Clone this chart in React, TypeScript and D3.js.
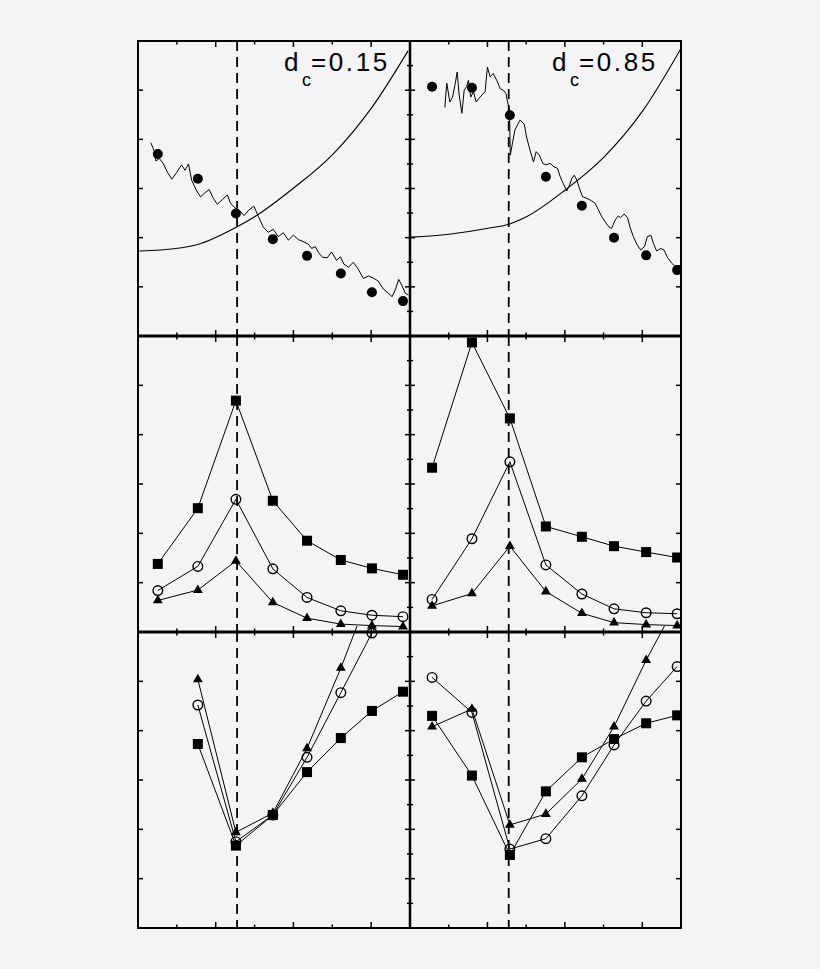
import React from "react";
import * as d3 from "d3";

// ---------- data ----------
const xLeft = [0.51, 1.54, 2.52, 3.47, 4.35, 5.22, 6.02, 6.82];
const xRight = [0.57, 1.6, 2.58, 3.51, 4.44, 5.27, 6.1, 6.9];
const xDash = 2.55;

const xMajor = [2, 4, 6];
const xMinor = [1, 3, 5];
const yMajor = [1, 2, 3, 4, 5];
const yMinor = [0.5, 1.5, 2.5, 3.5, 4.5, 5.5];

// top row: dots
const topLeftDots = [3.7, 3.2, 2.49, 1.97, 1.63, 1.27, 0.89, 0.71];
const topRightDots = [5.07, 5.05, 4.49, 3.24, 2.65, 2.0, 1.64, 1.34];

// top row: smooth curves [x, y]
const topLeftCurve: [number, number][] = [
  [0.03, 1.73], [0.57, 1.75], [1.54, 1.86], [2.55, 2.22], [3.01, 2.43],
  [3.99, 3.0], [5.02, 3.7], [6.02, 4.65], [6.95, 5.8],
];
const topRightCurve: [number, number][] = [
  [0.03, 2.01], [1.01, 2.07], [2.02, 2.19], [2.58, 2.28], [3.02, 2.43],
  [4.01, 2.97], [5.01, 3.64], [6.02, 4.59], [7.0, 5.85],
];

// top row: noisy traces [x, y]
const topLeftTrace: [number, number][] = [
  [0.33, 3.93], [0.41, 3.78], [0.46, 3.56], [0.55, 3.61], [0.65, 3.51], [0.75, 3.34],
  [0.87, 3.19], [0.99, 3.32], [1.12, 3.48], [1.21, 3.37], [1.3, 3.5], [1.38, 3.17],
  [1.51, 2.95], [1.61, 2.83], [1.72, 2.91], [1.83, 2.98], [1.94, 2.8], [2.04, 2.68],
  [2.18, 2.78], [2.3, 2.87], [2.38, 2.7], [2.52, 2.59], [2.62, 2.55], [2.73, 2.45],
  [2.85, 2.56], [2.98, 2.64], [3.1, 2.43], [3.22, 2.22], [3.35, 2.11], [3.48, 2.17],
  [3.61, 2.02], [3.74, 2.1], [3.87, 1.95], [4.0, 2.05], [4.13, 1.96], [4.25, 1.92],
  [4.38, 1.87], [4.47, 1.78], [4.56, 1.82], [4.65, 1.69], [4.75, 1.6], [4.87, 1.59],
  [4.98, 1.71], [5.11, 1.54], [5.21, 1.61], [5.3, 1.46], [5.42, 1.4], [5.54, 1.5],
  [5.66, 1.37], [5.8, 1.17], [5.93, 1.22], [6.05, 1.18], [6.18, 1.12], [6.31, 0.96],
  [6.44, 0.87], [6.54, 0.8], [6.63, 0.96], [6.71, 1.15], [6.79, 1.03], [6.88, 0.87],
  [6.96, 0.83],
];
const topRightTrace: [number, number][] = [
  [0.9, 4.65], [0.95, 5.14], [1.03, 4.76], [1.1, 4.86], [1.16, 5.1], [1.22, 5.37],
  [1.27, 4.9], [1.34, 4.53], [1.4, 5.0], [1.46, 5.07], [1.51, 5.2], [1.57, 4.86],
  [1.64, 4.97], [1.71, 4.76], [1.81, 4.86], [1.94, 4.97], [2.0, 5.47], [2.07, 5.27],
  [2.15, 5.34], [2.24, 5.2], [2.33, 5.03], [2.41, 5.0], [2.48, 4.93], [2.52, 4.76],
  [2.57, 4.59], [2.59, 3.68], [2.71, 4.19], [2.84, 4.39], [2.95, 4.31], [3.01, 4.05],
  [3.1, 3.78], [3.19, 3.54], [3.26, 3.75], [3.34, 3.68], [3.43, 3.51], [3.51, 3.48],
  [3.62, 3.51], [3.72, 3.44], [3.81, 3.41], [3.88, 3.24], [3.96, 3.1], [4.05, 2.95],
  [4.12, 3.07], [4.18, 3.2], [4.24, 3.27], [4.31, 3.17], [4.39, 2.97], [4.46, 2.83],
  [4.57, 2.8], [4.69, 2.75], [4.78, 2.7], [4.87, 2.56], [4.95, 2.43], [5.06, 2.3],
  [5.15, 2.21], [5.21, 2.19], [5.3, 2.36], [5.38, 2.44], [5.44, 2.41], [5.53, 2.48],
  [5.62, 2.41], [5.68, 2.22], [5.77, 2.02], [5.87, 1.85], [5.96, 1.75], [6.06, 1.82],
  [6.13, 2.02], [6.22, 2.05], [6.29, 1.88], [6.37, 1.73], [6.48, 1.78], [6.56, 1.75],
  [6.65, 1.6], [6.76, 1.48], [6.87, 1.4], [6.99, 1.44],
];

// middle row
const midLeftSquares = [1.38, 2.51, 4.69, 2.66, 1.85, 1.46, 1.29, 1.16];
const midLeftCircles = [0.84, 1.33, 2.69, 1.28, 0.7, 0.43, 0.34, 0.31];
const midLeftTriangles = [0.64, 0.85, 1.44, 0.6, 0.28, 0.16, 0.13, 0.11];
const midRightSquares = [3.33, 5.87, 4.33, 2.14, 1.93, 1.74, 1.62, 1.51];
const midRightCircles = [0.66, 1.89, 3.45, 1.36, 0.77, 0.47, 0.39, 0.37];
const midRightTriangles = [0.53, 0.78, 1.74, 0.82, 0.38, 0.19, 0.15, 0.13];

// bottom row
const botLeftSquares = [null, 3.73, 1.67, 2.29, 3.16, 3.85, 4.4, 4.79];
const botLeftCircles = [null, 4.52, 1.75, 2.29, 3.46, 4.77, 5.98, 7.2];
const botLeftTriangles = [null, 5.04, 1.94, 2.33, 3.64, 5.27, 6.9, 8.3];
const botRightSquares = [4.3, 3.09, 1.48, 2.77, 3.46, 3.83, 4.15, 4.31];
const botRightCircles = [5.08, 4.37, 1.6, 1.81, 2.68, 3.71, 4.6, 5.3];
const botRightTriangles = [4.08, 4.44, 2.09, 2.31, 3.02, 4.08, 5.43, 6.6];

const labels = ["0.15", "0.85"];

// ---------- layout ----------
const W = 820;
const H = 969;
const colX = [138, 410, 681];
const rowY = [41, 336, 632, 928];
const BG = "#f4f4f4";
const INK = "#000";

type Series = (number | null)[];

function Markers({ kind, xs, ys, sx, sy }: any) {
  const pts = xs
    .map((x: number, i: number) => [x, ys[i]])
    .filter((p: any) => p[1] != null && p[1] <= 6.2);
  const tri = d3.symbol().type(d3.symbolTriangle).size(42)();
  return (
    <g>
      {pts.map((p: any, i: number) => {
        const cx = sx(p[0]);
        const cy = sy(p[1]);
        if (kind === "square")
          return <rect key={i} x={cx - 5} y={cy - 5} width={10} height={10} fill={INK} />;
        if (kind === "circle")
          return <circle key={i} cx={cx} cy={cy} r={4.8} fill="none" stroke={INK} strokeWidth={1.4} />;
        if (kind === "dot")
          return <circle key={i} cx={cx} cy={cy} r={5} fill={INK} />;
        return <path key={i} d={tri as string} transform={`translate(${cx},${cy})`} fill={INK} />;
      })}
    </g>
  );
}

function SeriesLine({ xs, ys, sx, sy }: any) {
  const line = d3
    .line<any>()
    .defined((d) => d[1] != null)
    .x((d) => sx(d[0]))
    .y((d) => sy(d[1]));
  const data = xs.map((x: number, i: number) => [x, ys[i]]);
  return <path d={line(data) || ""} fill="none" stroke={INK} strokeWidth={1} />;
}

function Ticks({ sx, sy, x0, x1, y0, y1, outerLeft, outerRight }: any) {
  const els: any[] = [];
  xMajor.forEach((v) => {
    const x = sx(v);
    els.push(<line key={`xt${v}`} x1={x} x2={x} y1={y0} y2={y0 + 6} />);
    els.push(<line key={`xb${v}`} x1={x} x2={x} y1={y1} y2={y1 - 6} />);
  });
  xMinor.forEach((v) => {
    const x = sx(v);
    els.push(<line key={`xmt${v}`} x1={x} x2={x} y1={y0} y2={y0 + 3.5} />);
    els.push(<line key={`xmb${v}`} x1={x} x2={x} y1={y1} y2={y1 - 3.5} />);
  });
  yMajor.forEach((v) => {
    const y = sy(v);
    els.push(<line key={`yl${v}`} x1={x0} x2={x0 + 5} y1={y} y2={y} />);
    els.push(<line key={`yr${v}`} x1={x1} x2={x1 - 5} y1={y} y2={y} />);
  });
  yMinor.forEach((v) => {
    const y = sy(v);
    if (!outerLeft) els.push(<line key={`yml${v}`} x1={x0} x2={x0 + 3} y1={y} y2={y} />);
    if (!outerRight) els.push(<line key={`ymr${v}`} x1={x1} x2={x1 - 3} y1={y} y2={y} />);
  });
  return (
    <g stroke={INK} strokeWidth={1.5}>
      {els}
    </g>
  );
}

export default function App() {
  const panels: any[] = [];
  for (let c = 0; c < 2; c++) {
    for (let r = 0; r < 3; r++) {
      const x0 = colX[c];
      const x1 = colX[c + 1];
      const y0 = rowY[r];
      const y1 = rowY[r + 1];
      const sx = d3.scaleLinear().domain([0, 7]).range([x0, x1]);
      const sy = d3.scaleLinear().domain([0, 6]).range([y1, y0]);
      const xs = c === 0 ? xLeft : xRight;
      const id = `clip${c}${r}`;
      let content: any = null;
      if (r === 0) {
        const curve = c === 0 ? topLeftCurve : topRightCurve;
        const trace = c === 0 ? topLeftTrace : topRightTrace;
        const dots = c === 0 ? topLeftDots : topRightDots;
        const smooth = d3
          .line<[number, number]>()
          .x((d) => sx(d[0]))
          .y((d) => sy(d[1]))
          .curve(d3.curveMonotoneX);
        const jag = d3
          .line<[number, number]>()
          .x((d) => sx(d[0]))
          .y((d) => sy(d[1]));
        content = (
          <g>
            <path d={smooth(curve) || ""} fill="none" stroke={INK} strokeWidth={1.1} />
            <path d={jag(trace) || ""} fill="none" stroke={INK} strokeWidth={1} />
            <Markers kind="dot" xs={xs} ys={dots} sx={sx} sy={sy} />
          </g>
        );
      } else {
        const sets: [string, Series][] =
          r === 1
            ? c === 0
              ? [["square", midLeftSquares], ["circle", midLeftCircles], ["tri", midLeftTriangles]]
              : [["square", midRightSquares], ["circle", midRightCircles], ["tri", midRightTriangles]]
            : c === 0
            ? [["square", botLeftSquares], ["circle", botLeftCircles], ["tri", botLeftTriangles]]
            : [["square", botRightSquares], ["circle", botRightCircles], ["tri", botRightTriangles]];
        content = (
          <g>
            {sets.map(([k, ys]) => (
              <SeriesLine key={`l${k}`} xs={xs} ys={ys} sx={sx} sy={sy} />
            ))}
            {sets.map(([k, ys]) => (
              <Markers key={`m${k}`} kind={k} xs={xs} ys={ys} sx={sx} sy={sy} />
            ))}
          </g>
        );
      }
      panels.push(
        <g key={id}>
          <clipPath id={id}>
            <rect x={x0} y={y0 - 6} width={x1 - x0} height={y1 - y0 + 12} />
          </clipPath>
          <line
            x1={sx(xDash)}
            x2={sx(xDash)}
            y1={y0}
            y2={y1}
            stroke={INK}
            strokeWidth={1.8}
            strokeDasharray="10,6"
          />
          <g clipPath={`url(#${id})`}>{content}</g>
          <Ticks sx={sx} sy={sy} x0={x0} x1={x1} y0={y0} y1={y1} outerLeft={c === 0} outerRight={c === 1} />
        </g>
      );
    }
  }

  const labelX = [284, 552];
  return (
    <svg
      width={W}
      height={H}
      style={{ position: "absolute", left: 0, top: 0, background: BG }}
      fontFamily="'Liberation Sans', Arial, sans-serif"
    >
      <rect x={0} y={0} width={W} height={H} fill={BG} />
      {panels}
      {/* frame */}
      <rect x={colX[0]} y={rowY[0]} width={colX[2] - colX[0]} height={rowY[3] - rowY[0]} fill="none" stroke={INK} strokeWidth={2} />
      <line x1={colX[1]} x2={colX[1]} y1={rowY[0]} y2={rowY[3]} stroke={INK} strokeWidth={2.5} />
      <line x1={colX[0]} x2={colX[2]} y1={rowY[1]} y2={rowY[1]} stroke={INK} strokeWidth={3} />
      <line x1={colX[0]} x2={colX[2]} y1={rowY[2]} y2={rowY[2]} stroke={INK} strokeWidth={3} />
      {labels.map((lab, i) => (
        <g key={lab}>
          <text x={labelX[i]} y={71} fontSize={26} fill={INK}>d</text>
          <text x={labelX[i] + 18} y={86} fontSize={18} fill={INK}>c</text>
          <text x={labelX[i] + 27} y={71} fontSize={26} letterSpacing={2.6} fill={INK}>{"=" + lab}</text>
        </g>
      ))}
    </svg>
  );
}
